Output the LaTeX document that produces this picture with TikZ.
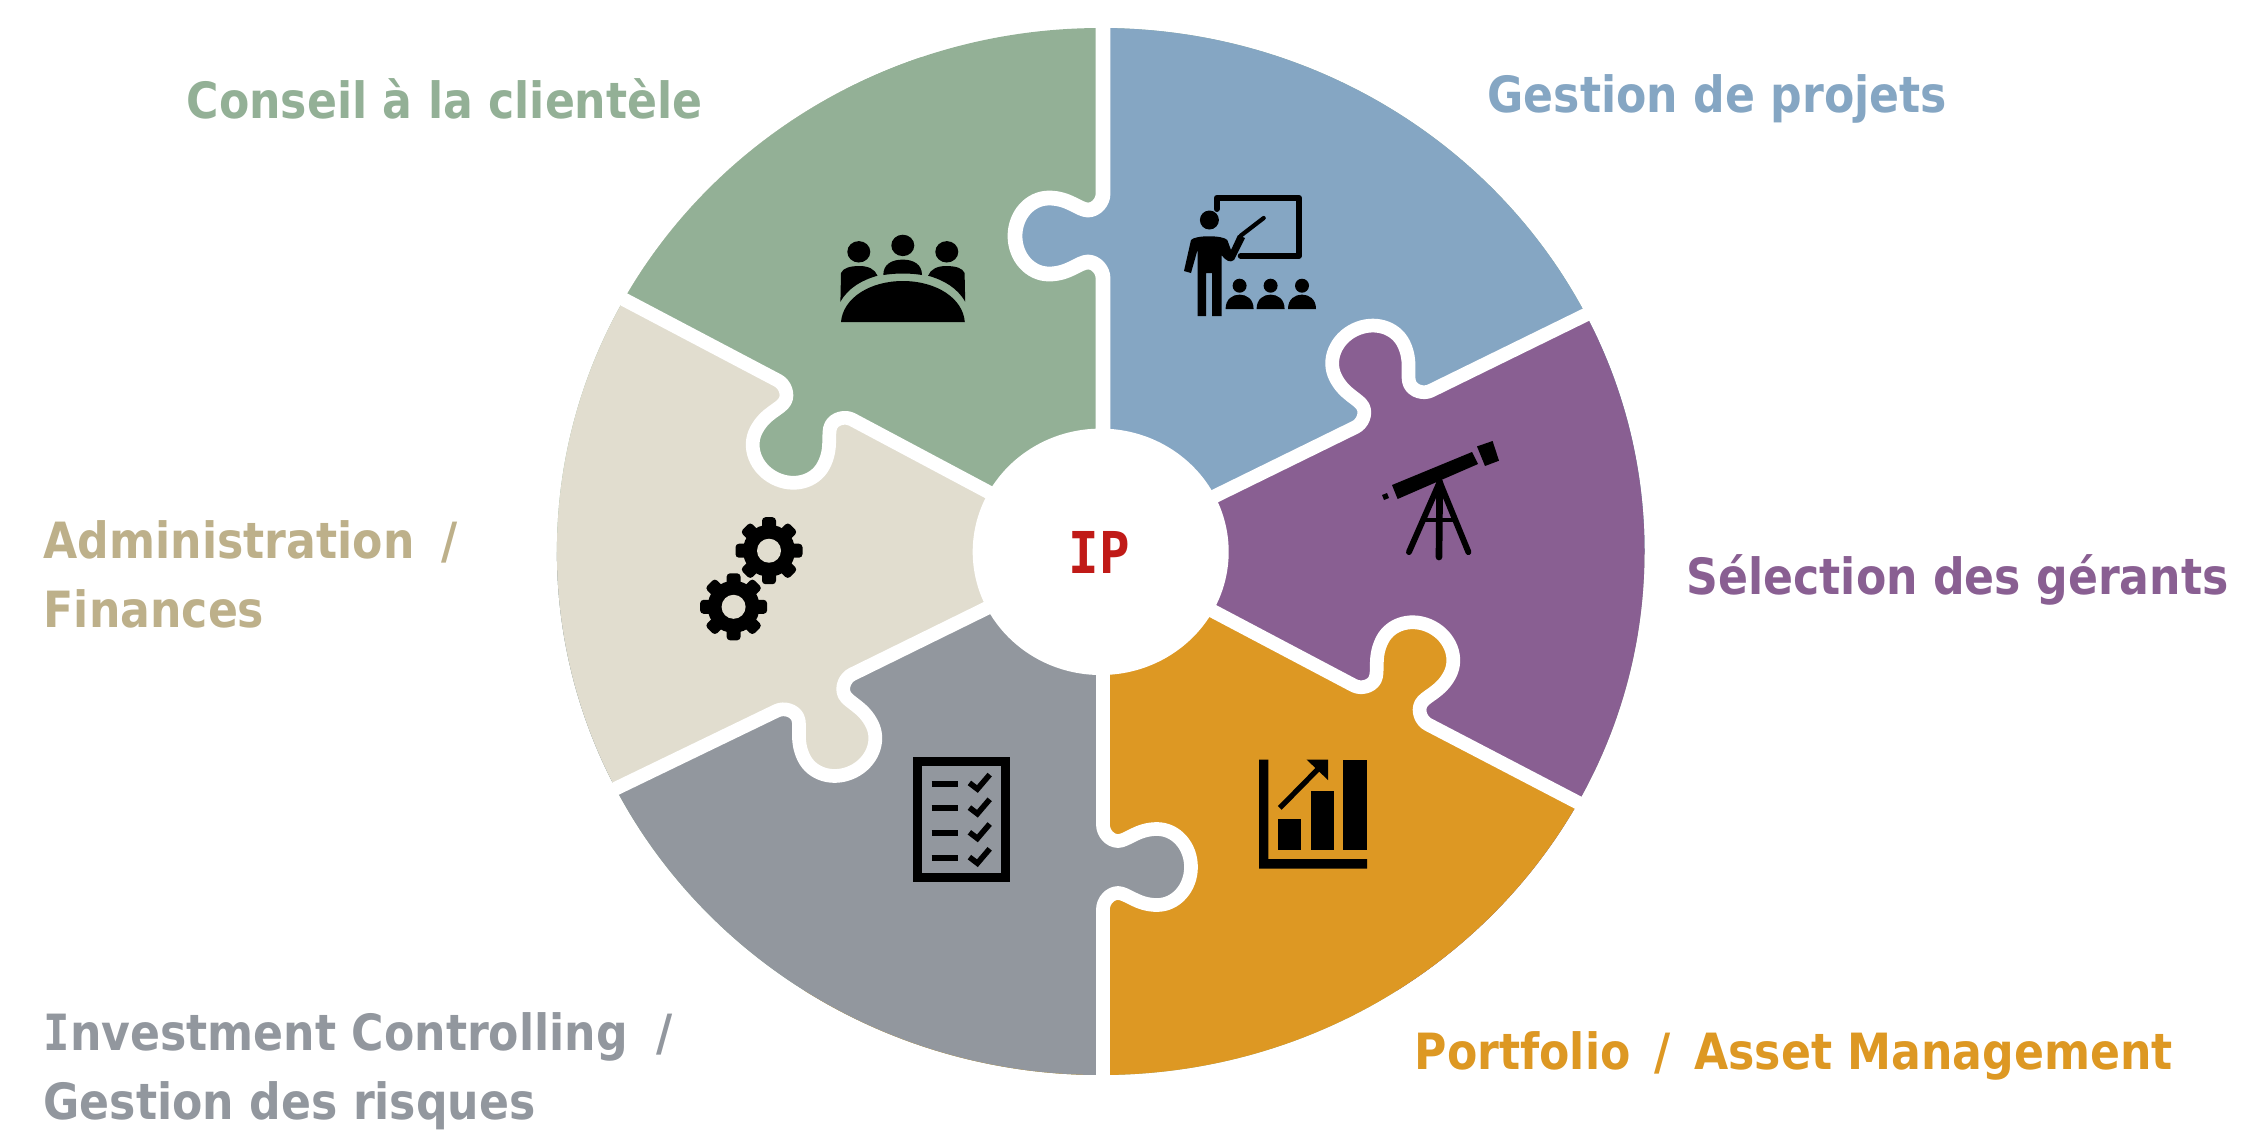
\documentclass[tikz,border=0pt]{standalone}
\usepackage{fontspec}
\usepackage{xcolor}
\usepackage{tikz}
\usetikzlibrary{calc}
\newfontfamily\labfont[FakeStretch=0.885]{DejaVu Sans}
\newfontfamily\slabfont[FakeStretch=0.88]{DejaVu Sans Mono}
\definecolor{conseil}{HTML}{93B096}
\definecolor{projets}{HTML}{85A6C3}
\definecolor{gerants}{HTML}{895F92}
\definecolor{asset}{HTML}{DD9823}
\definecolor{risques}{HTML}{92979E}
\definecolor{admin}{HTML}{E1DDCF}
\definecolor{admintext}{HTML}{BDB08A}
\definecolor{ipred}{HTML}{C01A17}
\tikzset{
  gap/.style={draw=white, line width=3.9pt, line join=round},
  lab/.style={anchor=base west, inner sep=0pt, font=\labfont\bfseries\fontsize{14.2}{17}\selectfont},
  ico/.style={fill=black, draw=none},
  icoline/.style={draw=black, line width=1.6pt, line cap=round, line join=round},
}
% one puzzle tab: base point on the border and direction of the border
\def\tabat#1#2#3{{[shift={(#1,#2)},rotate=#3] -- (-42,0) .. controls (-34,0) and (-26,-7) .. (-26,-15) .. controls (-26,-24) and (-38,-34) .. (-38,-54) .. controls (-38,-73) and (-21,-88) .. (0,-88) .. controls (21,-88) and (38,-73) .. (38,-54) .. controls (38,-34) and (26,-24) .. (26,-15) .. controls (26,-7) and (34,0) .. (42,0)}}
% borders between the pieces, from the hub outwards
\def\bndA{-- (1103,552) \tabat{1103}{236}{90} -- (1103,0)}
\def\bndB{\tabat{1393}{409}{25.8} -- (1620,298)}
\def\bndC{\tabat{1391}{705}{-27.7} -- (1620,824.5)}
\def\bndD{-- (1103,552) \tabat{1103}{867}{-90} -- (1103,1144)}
\def\bndE{\tabat{814.5}{692.5}{205.8} -- (590,801)}
\def\bndF{\tabat{815}{400}{152.3} -- (600,286.8)}
\begin{document}
\begin{tikzpicture}[x=0.01cm,y=-0.01cm]
  \useasboundingbox (0,0) rectangle (2262,1144);
  \coordinate (O) at (1101,552);

  % pieces, each one painted over the previous
  \begin{scope}
    \clip (1100.7,551.5) ellipse [x radius=543.8, y radius=523.5];
    \fill[conseil] (0,0) rectangle (2262,1144);
    \fill[projets] (O) \bndA -- (1800,0) -- (1800,552) -- cycle;
    \fill[gerants] (O) \bndB -- (1800,298) -- (1800,1144) -- (1500,1144) -- cycle;
    \fill[asset] (O) \bndC -- (1800,824) -- (1800,1144) -- (700,1144) -- cycle;
    \fill[risques] (O) \bndD -- (0,1144) -- (0,552) -- cycle;
    \fill[admin] (O) \bndE -- (0,801) -- (0,0) -- (800,0) -- cycle;
    \fill[conseil] (O) \bndF -- (0,287) -- (0,0) -- (900,0) -- cycle;
  \end{scope}

  \draw[gap, line width=4.2pt] (O) \bndA;
  \draw[gap] (O) \bndB;
  \draw[gap] (O) \bndC;
  \draw[gap] (O) \bndD;
  \draw[gap] (O) \bndE;
  \draw[gap] (O) \bndF;
  \fill[white] (1100.7,551.8) ellipse [x radius=128, y radius=123.2];

  \node[lab, text=ipred, font=\bfseries\fontsize{16.4}{17}\selectfont] (hub) at (1068,573) {\slabfont IP};
  \node[lab, text=conseil] (labConseil) at (186,118) {Conseil à la clientèle};
  \node[lab, text=projets] (labProjets) at (1487,112) {Gestion de projets};
  \node[lab, text=gerants] (labGerants) at (1686,594) {Sélection des gérants};
  \node[lab, text=admintext] (labAdminA) at (43,558) {Administration\hspace{3.3pt} /};
  \node[lab, text=admintext] (labAdminB) at (43,627) {Finances};
  \node[lab, text=risques] (labRisquesA) at (43,1050) {{\slabfont I}nvestment Controlling\hspace{3.7pt} /};
  \node[lab, text=risques] (labRisquesB) at (43,1119) {Gestion des risques};
  \node[lab, text=asset] (labAsset) at (1414,1069) {Portfolio\hspace{2.4pt} /\hspace{2.4pt} Asset Management};

  % meeting table
  \fill[ico] (858.8,251.8) ellipse [x radius=11.5, y radius=10.7];
  \fill[ico] (902.8,245.4) ellipse [x radius=11.5, y radius=10.7];
  \fill[ico] (946.8,251.8) ellipse [x radius=11.5, y radius=10.7];
  \fill[ico] (883.3,275) .. controls (883.3,264) and (892,259.6) .. (902.8,259.6) .. controls (913,259.6) and (922,264) .. (922,275) .. controls (910,273) and (896,273) .. (883.3,275) -- cycle;
  \fill[ico] (840.4,301.8) -- (841,273) .. controls (843,268) and (850,266) .. (859.6,266) .. controls (868,266) and (875,269) .. (877.5,275.7) .. controls (862,280) and (848,288) .. (840.4,301.8) -- cycle;
  \fill[ico] (965.2,301.8) -- (964.6,273) .. controls (962.6,268) and (955.6,266) .. (946,266) .. controls (937.6,266) and (930.6,269) .. (928.1,275.7) .. controls (943.6,280) and (957.6,288) .. (965.2,301.8) -- cycle;
  \fill[ico] (841,322) .. controls (843,298) and (870,281) .. (902.8,281) .. controls (936,281) and (963,298) .. (964.8,322) -- cycle;

  % teacher at the board
  \draw[icoline, line width=1.7pt] (1216.6,209) -- (1216.6,198) -- (1299,198) -- (1299,255.7) -- (1240.7,255.7);
  \draw[icoline, line width=1.2pt] (1240.7,235.7) -- (1263.7,218);
  \fill[ico] (1209.4,220) circle [radius=9.5];
  \fill[ico] (1191,240) .. controls (1195,235) and (1223,235) .. (1227.3,240) -- (1231,250) -- (1238,235) -- (1245,238) -- (1234,260) .. controls (1230,263) and (1226,261) .. (1221.6,255) -- (1221.6,316) -- (1212,316) -- (1212,273) -- (1206,273) -- (1206,316) -- (1197.5,316) -- (1197.5,250) -- (1191,273) -- (1184,271) -- cycle;
  \foreach \x in {1239.6,1270.6,1302}{
    \fill[ico] (\x,285.7) ellipse [x radius=7, y radius=7];
    \fill[ico] (\x-14,309) .. controls (\x-14,299) and (\x-7,294.6) .. (\x,294.6) .. controls (\x+7,294.6) and (\x+14,299) .. (\x+14,309) -- cycle;
  }

  % telescope
  \fill[ico] (1392,485) -- (1472,452) -- (1478,464) -- (1397.6,499) -- cycle;
  \fill[ico] (1477,446.4) -- (1492.6,441) -- (1499,460.7) -- (1485,466) -- cycle;
  \fill[ico] (1382,495) -- (1387,493) -- (1389,498) -- (1384,500) -- cycle;
  \draw[icoline, line width=1.7pt] (1439.7,482) -- (1409,552);
  \draw[icoline, line width=1.9pt] (1439.7,482) -- (1439,557);
  \draw[icoline, line width=1.7pt] (1439.7,482) -- (1468.4,552);
  \draw[icoline, line width=1.3pt] (1424,520) -- (1453,520);

  % bar chart
  \fill[ico] (1259,759.6) -- (1268.3,759.6) -- (1268.3,859) -- (1367,859) -- (1367,868.6) -- (1259,868.6) -- cycle;
  \fill[ico] (1278,818.6) rectangle (1301,850);
  \fill[ico] (1310.8,791) rectangle (1333.7,850);
  \fill[ico] (1343,759.6) rectangle (1367,850);
  \draw[icoline, line cap=butt, line width=1.5pt] (1279.8,807.9) -- (1322,765);
  \fill[ico] (1328,759.6) -- (1306.6,759.6) -- (1328,780) -- cycle;

  % gears
  \foreach \gx/\gy in {769/550.7,733.6/606.8}{
    \fill[ico] (\gx,\gy) circle [radius=26];
    \foreach \a in {0,45,...,315}{
      \fill[ico, rotate around={\a:(\gx,\gy)}, rounded corners=1pt] (\gx-7,\gy-33.5) rectangle (\gx+7,\gy);
    }
    \fill[admin] (\gx,\gy) circle [radius=12];
  }

  % check list
  \draw[black, line width=2.6pt] (917.5,761.2) rectangle (1005.7,877.4);
  \foreach \y in {0,24.7,49.4,74.2}{
    \draw[black, line width=1.7pt] (931.5,783.6+\y) -- (958.3,783.6+\y);
    \draw[black, line width=1.6pt] (969.4,782.9+\y) -- (977.4,789+\y) -- (989.7,774.6+\y);
  }
\end{tikzpicture}
\end{document}
